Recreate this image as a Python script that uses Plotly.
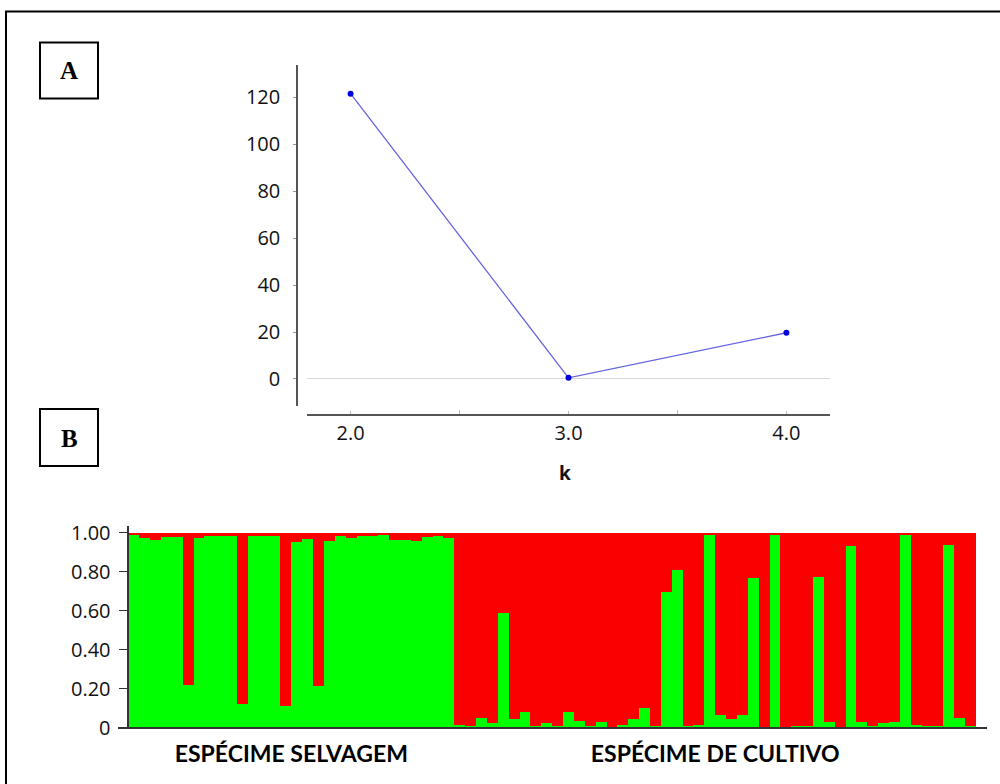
import plotly.graph_objects as go

# ---------------- data ----------------
k_values = [2.0, 3.0, 4.0]
delta_k = [121.5, 0.5, 19.7]
k_ticks = [2.0, 3.0, 4.0]
k_tick_text = ["2.0", "3.0", "4.0"]
a_yticks = [0, 20, 40, 60, 80, 100, 120]

wild_q = [0.99, 0.975, 0.965, 0.98, 0.98, 0.22, 0.975, 0.985, 0.985, 0.985,
          0.12, 0.985, 0.985, 0.985, 0.11, 0.95, 0.97, 0.21, 0.96, 0.985,
          0.975, 0.985, 0.985, 0.99, 0.965, 0.965, 0.96, 0.98, 0.985, 0.975]
cult_q = [0.014, 0.007, 0.048, 0.02, 0.585, 0.041, 0.077, 0.007, 0.02, 0.007,
          0.077, 0.034, 0.007, 0.027, 0.0, 0.014, 0.041, 0.098, 0.007, 0.693,
          0.808, 0.007, 0.014, 0.986, 0.065, 0.045, 0.065, 0.765, 0.0, 0.986,
          0.0, 0.007, 0.007, 0.772, 0.027, 0.0, 0.93, 0.027, 0.007, 0.02,
          0.027, 0.986, 0.014, 0.007, 0.007, 0.937, 0.048, 0.007]
group_labels = ["ESPÉCIME SELVAGEM", "ESPÉCIME DE CULTIVO"]
b_yticks = [0, 0.2, 0.4, 0.6, 0.8, 1.0]
b_ytick_text = ["0", "0.20", "0.40", "0.60", "0.80", "1.00"]

# ---------------- helpers ----------------
W, H = 1000, 784
def px(x):
    return x / W
def py(y):
    yf = (y - 6.6) / 0.973
    return 1 - yf / H

green_q = wild_q + cult_q
red_q = [1 - v for v in green_q]
idx = list(range(1, len(green_q) + 1))
n_wild, n_cult = len(wild_q), len(cult_q)
group_centers = [(1 + n_wild) / 2, n_wild + (1 + n_cult) / 2]

fig = go.Figure()

# Panel A line
fig.add_trace(go.Scatter(
    x=k_values, y=delta_k, mode="lines+markers",
    line=dict(color="rgb(100,100,225)", width=1.3),
    marker=dict(color="rgb(0,0,220)", size=6),
    xaxis="x", yaxis="y", showlegend=False, hoverinfo="skip"))

# Panel B stacked bars
fig.add_trace(go.Bar(x=idx, y=green_q, marker=dict(color="rgb(0,255,0)", line=dict(width=0)),
                     width=1.0, xaxis="x2", yaxis="y2", showlegend=False))
fig.add_trace(go.Bar(x=idx, y=red_q, marker=dict(color="rgb(250,0,0)", line=dict(width=0)),
                     width=1.0, xaxis="x2", yaxis="y2", showlegend=False))

tick_font = dict(family="Open Sans", size=20, color="#111")

fig.update_layout(
    width=W, height=H, autosize=False,
    margin=dict(l=0, r=0, t=0, b=0),
    paper_bgcolor="white", plot_bgcolor="rgba(0,0,0,0)",
    barmode="stack", bargap=0,
    showlegend=False,
    xaxis=dict(domain=[px(307), px(830)], range=[1.8, 4.2], anchor="free", position=py(414),
               showline=True, linecolor="#555", linewidth=1.5,
               tickvals=k_ticks, ticktext=k_tick_text, ticks="inside", ticklen=3,
               tickcolor="#bbb", minor=dict(tickvals=[2.5, 3.5], ticks="inside", ticklen=4, tickcolor="#bbb"),
               showgrid=False, zeroline=False, tickfont=tick_font, ticklabelstandoff=0),
    yaxis=dict(domain=[py(405), py(65)], range=[-11.5, 133.5], anchor="free", position=px(297),
               showline=True, linecolor="#555", linewidth=1.5,
               tickvals=a_yticks, ticks="outside", ticklen=3, tickcolor="#999",
               zeroline=True, zerolinecolor="#d8d8d8", zerolinewidth=1.2,
               showgrid=False, tickfont=tick_font, ticklabelstandoff=9),
    xaxis2=dict(domain=[px(118), px(987)], range=[-0.448, 79.51], anchor="free", position=py(726),
                showline=True, linecolor="#333", linewidth=2, ticks="",
                tickvals=group_centers, ticktext=group_labels,
                tickfont=dict(family="Lato", size=23, color="#000", weight="bold"),
                showgrid=False, zeroline=False, ticklabelstandoff=6),
    yaxis2=dict(domain=[py(726), py(525)], range=[0, 1.0345], anchor="free", position=px(128.3),
                showline=True, linecolor="#333", linewidth=1.5,
                tickvals=b_yticks, ticktext=b_ytick_text, ticks="outside", ticklen=9, tickcolor="#333",
                showgrid=False, zeroline=False, tickfont=tick_font, ticklabelstandoff=4),
)

shapes = [
    dict(type="rect", xref="paper", yref="paper", x0=px(6), x1=px(1010), y0=py(11), y1=-0.05,
         line=dict(color="black", width=2)),
    dict(type="rect", xref="paper", yref="paper", x0=px(40), x1=px(98), y0=py(42), y1=py(98),
         line=dict(color="black", width=2)),
    dict(type="rect", xref="paper", yref="paper", x0=px(40), x1=px(98), y0=py(408), y1=py(465),
         line=dict(color="black", width=2)),
]
fig.update_layout(shapes=shapes)

box_font = dict(family="Liberation Serif", size=25, color="black", weight="bold")
fig.add_annotation(x=px(69), y=py(70), xref="paper", yref="paper", text="A", showarrow=False,
                   font=box_font, xanchor="center", yanchor="middle")
fig.add_annotation(x=px(69), y=py(437), xref="paper", yref="paper", text="B", showarrow=False,
                   font=box_font, xanchor="center", yanchor="middle")
fig.add_annotation(x=px(565), y=py(472), xref="paper", yref="paper", text="k", showarrow=False,
                   font=dict(family="Open Sans", size=19, color="#111", weight="bold"),
                   xanchor="center", yanchor="middle")

post = (
    "var d=document.getElementById('{plot_id}');"
    "d.style.position='fixed';d.style.left='0px';d.style.top='0px';"
    "document.body.style.margin='0px';"
    "document.body.style.overflow='hidden';"
    "document.documentElement.style.overflow='hidden';"
)
fig.write_html("out.html", config={"displayModeBar": False}, post_script=post)
